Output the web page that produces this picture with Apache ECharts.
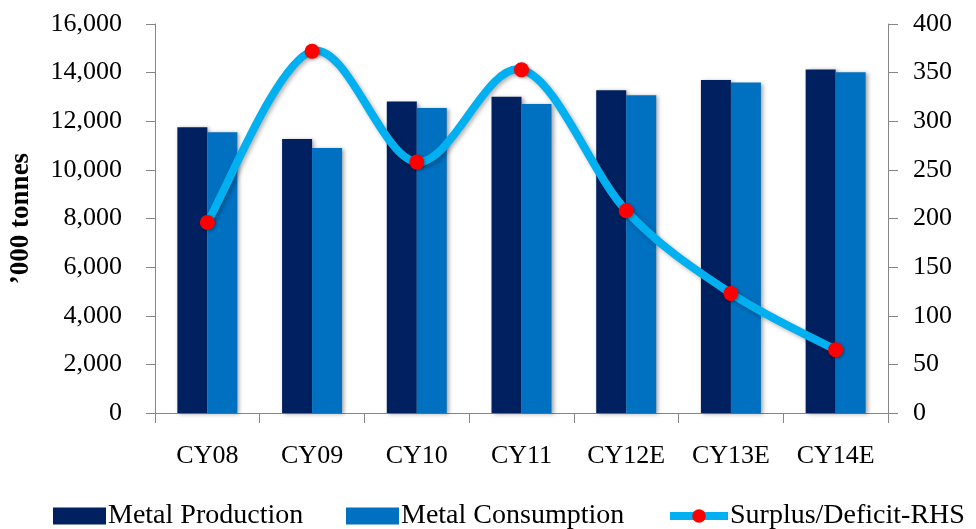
<!DOCTYPE html>
<html>
<head>
<meta charset="utf-8">
<script src="https://cdn.jsdelivr.net/npm/echarts@6/dist/echarts.min.js"></script>
<style>
html,body{margin:0;padding:0;background:#fff;}
#chart{width:976px;height:529px;}
</style>
</head>
<body>
<div id="chart"></div>
<script>
const categories = ['CY08','CY09','CY10','CY11','CY12E','CY13E','CY14E'];
const metalProduction = [11750, 11270, 12810, 13010, 13280, 13700, 14130];
const metalConsumption = [11550, 10900, 12540, 12710, 13070, 13590, 14020];
const surplusDeficit = [196, 372, 258, 353, 208, 123, 65];
const leftTicks = {min: 0, max: 16000, interval: 2000};
const rightTicks = {min: 0, max: 400, interval: 50};

const FONT = '"Liberation Serif", "Times New Roman", serif';
const AXIS_COLOR = '#868686';
const LINE_COLOR = '#00B0F0';

const chart = echarts.init(document.getElementById('chart'), null, {renderer: 'canvas'});

function legendFor(item, left, width) {
  return {
    left: left, top: 502, padding: 0,
    itemWidth: width, itemHeight: 17, itemGap: 0,
    textStyle: {fontFamily: FONT, fontSize: 28, color: '#000', padding: [0,0,0,-3]},
    data: [item],
    selectedMode: false
  };
}

// Smooth curve (Excel-like Catmull-Rom) drawn through the axis scales
function renderCurve(params, api) {
  if (params.dataIndex !== 0) return null;
  const pts = surplusDeficit.map((v, i) => api.coord([i, v]));
  const n = pts.length;
  let d = 'M' + pts[0][0] + ',' + pts[0][1];
  for (let i = 0; i < n - 1; i++) {
    const p0 = pts[Math.max(i - 1, 0)], p1 = pts[i], p2 = pts[i + 1], p3 = pts[Math.min(i + 2, n - 1)];
    const c1x = p1[0] + (p2[0] - p0[0]) / 6, c1y = p1[1] + (p2[1] - p0[1]) / 6;
    const c2x = p2[0] - (p3[0] - p1[0]) / 6, c2y = p2[1] - (p3[1] - p1[1]) / 6;
    d += ' C' + c1x + ',' + c1y + ' ' + c2x + ',' + c2y + ' ' + p2[0] + ',' + p2[1];
  }
  return {
    type: 'path',
    shape: {pathData: d},
    style: {fill: 'none', stroke: LINE_COLOR, lineWidth: 8, lineCap: 'round', lineJoin: 'round',
      shadowBlur: 4, shadowColor: 'rgba(0,0,0,0.3)', shadowOffsetX: 2, shadowOffsetY: 2}
  };
}

chart.setOption({
  animation: false,
  backgroundColor: '#fff',
  grid: {left: 154, right: 88, top: 24, bottom: 116, containLabel: false},
  legend: [
    legendFor({name: 'Metal Production', icon: 'rect'}, 53, 53),
    legendFor({name: 'Metal Consumption', icon: 'rect'}, 346, 53),
    legendFor({name: 'Surplus/Deficit-RHS',
      itemStyle: {color: '#FF0000', opacity: 1},
      lineStyle: {color: LINE_COLOR, width: 8, opacity: 1}}, 666, 58)
  ],
  xAxis: {
    type: 'category',
    data: categories,
    boundaryGap: true,
    axisLine: {show: true, lineStyle: {color: AXIS_COLOR, width: 1}},
    axisTick: {show: true, length: 10, alignWithLabel: false, lineStyle: {color: AXIS_COLOR}},
    axisLabel: {fontFamily: FONT, fontSize: 26, color: '#000', margin: 30},
    splitLine: {show: false}
  },
  yAxis: [
    {
      type: 'value',
      min: leftTicks.min, max: leftTicks.max, interval: leftTicks.interval,
      name: '\u2019000 tonnes',
      nameLocation: 'middle',
      nameRotate: 90,
      nameGap: 120,
      nameTextStyle: {fontFamily: FONT, fontSize: 27, fontWeight: 'bold', color: '#000'},
      axisLine: {show: true, lineStyle: {color: AXIS_COLOR, width: 1}},
      axisTick: {show: true, length: 9, inside: false, lineStyle: {color: AXIS_COLOR}},
      axisLabel: {fontFamily: FONT, fontSize: 26, color: '#000', margin: 33,
        formatter: v => v.toLocaleString('en-US')},
      splitLine: {show: false}
    },
    {
      type: 'value',
      position: 'right',
      min: rightTicks.min, max: rightTicks.max, interval: rightTicks.interval,
      axisLine: {show: true, lineStyle: {color: AXIS_COLOR, width: 1}},
      axisTick: {show: true, length: 10, inside: false, lineStyle: {color: AXIS_COLOR}},
      axisLabel: {fontFamily: FONT, fontSize: 26, color: '#000', margin: 25},
      splitLine: {show: false}
    }
  ],
  series: [
    {
      name: 'Metal Production',
      type: 'bar',
      yAxisIndex: 0,
      data: metalProduction,
      barWidth: 30,
      barGap: '0%',
      itemStyle: {color: '#002060', shadowBlur: 4, shadowColor: 'rgba(0,0,0,0.35)', shadowOffsetX: 2, shadowOffsetY: 1}
    },
    {
      name: 'Metal Consumption',
      type: 'bar',
      yAxisIndex: 0,
      data: metalConsumption,
      barWidth: 30,
      barGap: '0%',
      itemStyle: {color: '#0070C0', shadowBlur: 4, shadowColor: 'rgba(0,0,0,0.35)', shadowOffsetX: 2, shadowOffsetY: 1}
    },
    {
      name: 'Surplus curve',
      type: 'custom',
      yAxisIndex: 1,
      coordinateSystem: 'cartesian2d',
      data: surplusDeficit.map((v, i) => [i, v]),
      encode: {x: 0, y: 1},
      renderItem: renderCurve,
      z: 4,
      silent: true
    },
    {
      name: 'Surplus/Deficit-RHS',
      type: 'line',
      yAxisIndex: 1,
      data: surplusDeficit,
      symbol: 'circle',
      symbolSize: 15,
      z: 5,
      lineStyle: {color: LINE_COLOR, width: 0, opacity: 0},
      itemStyle: {color: '#FF0000', shadowBlur: 3, shadowColor: 'rgba(0,0,0,0.3)', shadowOffsetX: 1, shadowOffsetY: 1}
    }
  ]
});
</script>
</body>
</html>
